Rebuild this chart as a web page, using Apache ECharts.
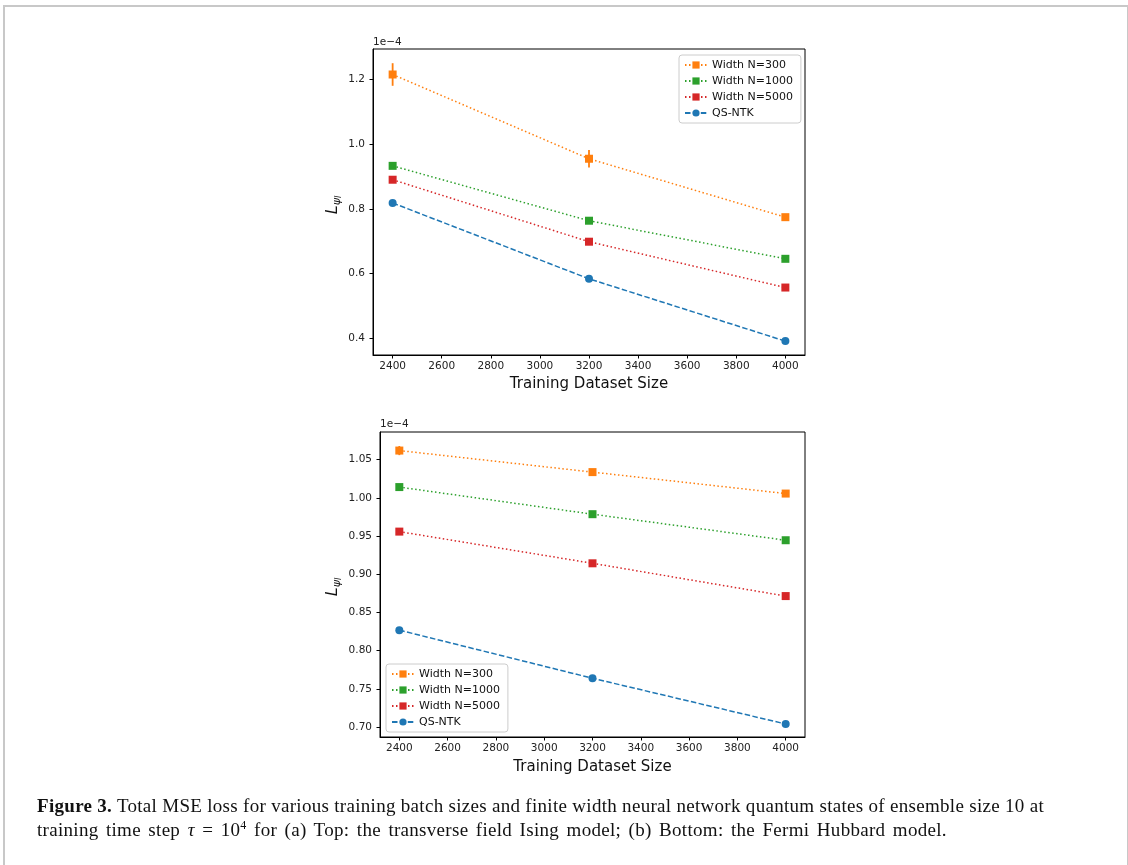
<!DOCTYPE html>
<html>
<head>
<meta charset="utf-8">
<script src="https://cdn.jsdelivr.net/npm/echarts@6/dist/echarts.min.js"></script>
<style>
  body { margin: 0; background: #fff; }
  #frame { position: absolute; left: 3px; top: 5px; width: 1122px; height: 880px;
           border: 2px solid #c8c8c8; border-bottom: none; }
  #chart { position: absolute; left: 0; top: 0; width: 1128px; height: 865px; }
  #caption { position: absolute; left: 37px; top: 794px; width: 1085px;
             font-family: "Liberation Serif", "DejaVu Serif", serif; font-size: 19px;
             letter-spacing: 0.3px; line-height: 24px; color: #111; white-space: nowrap; }
  #caption sup { font-size: 12px; line-height: 0; vertical-align: 7px; }
  #caption .l2 { word-spacing: 2.4px; }
</style>
</head>
<body>
<div id="frame"></div>
<div id="chart"></div>
<div id="caption"><b>Figure 3.</b> Total MSE loss for various training batch sizes and finite width neural network quantum states of ensemble size 10 at<br><span class="l2">training time step <i>τ</i>&nbsp;=&nbsp;10<sup>4</sup> for (a) Top: the transverse field Ising model; (b) Bottom: the Fermi Hubbard model.</span></div>
<script>
// datos (valores en unidades de 1e-4)
const tamanos = [2400, 3200, 4000];
const xTicks = [2400, 2600, 2800, 3000, 3200, 3400, 3600, 3800, 4000];
const nombres = ['Width N=300', 'Width N=1000', 'Width N=5000', 'QS-NTK'];

// (a) Ising
const isingN300 = [1.216, 0.955, 0.774];
const isingN1000 = [0.933, 0.763, 0.645];
const isingN5000 = [0.890, 0.698, 0.556];
const isingNTK = [0.818, 0.583, 0.390];
const isingErrN300 = [0.035, 0.027, 0.004];
const isingErrN1000 = [0.004, 0.004, 0.003];
const isingErrN5000 = [0.004, 0.004, 0.003];
const isingYTicks = [0.4, 0.6, 0.8, 1.0, 1.2];

// (b) Fermi Hubbard
const hubbardN300 = [1.0620, 1.0338, 1.0057];
const hubbardN1000 = [1.0142, 0.9787, 0.9446];
const hubbardN5000 = [0.9559, 0.9144, 0.8715];
const hubbardNTK = [0.8269, 0.7639, 0.7040];
const hubbardErrN300 = [0.006, 0.004, 0.002];
const hubbardErrN1000 = [0.004, 0.002, 0.002];
const hubbardErrN5000 = [0.002, 0.002, 0.002];
const hubbardYTicks = [0.70, 0.75, 0.80, 0.85, 0.90, 0.95, 1.00, 1.05];

const colores = ['#ff7f0e', '#2ca02c', '#d62728', '#1f77b4'];
const punteado = [1.5, 2.5];
const rayado = [5.5, 2.4];
const fuente = 'DejaVu Sans';

const linea = (nombre, valores, color, tipo, simbolo, idx) => ({
    name: nombre,
    type: 'line',
    xAxisIndex: idx,
    yAxisIndex: idx,
    data: tamanos.map((x, i) => [x, valores[i]]),
    symbol: simbolo,
    symbolSize: 8,
    lineStyle: { color: color, width: 1.5, type: tipo },
    itemStyle: { color: color },
    animation: false,
    z: 3
});

const barraError = (valores, errores, color, idx) => ({
    type: 'custom',
    xAxisIndex: idx,
    yAxisIndex: idx,
    data: tamanos.map((x, i) => [x, valores[i] - errores[i], valores[i] + errores[i]]),
    encode: { x: 0, y: [1, 2] },
    renderItem: (params, api) => {
        const a = api.coord([api.value(0), api.value(1)]);
        const b = api.coord([api.value(0), api.value(2)]);
        return {
            type: 'line',
            shape: { x1: a[0], y1: a[1], x2: b[0], y2: b[1] },
            style: { stroke: color, lineWidth: 1.8 }
        };
    },
    silent: true,
    animation: false,
    z: 4
});

const ejeX = (idx) => ({
    type: 'value',
    gridIndex: idx,
    min: 2320,
    max: 4080,
    name: 'Training Dataset Size',
    nameLocation: 'middle',
    nameGap: idx === 0 ? 22 : 23,
    nameTextStyle: { fontFamily: fuente, fontSize: 15, color: '#111' },
    axisLine: { show: true, onZero: false, lineStyle: { color: '#000', width: 1 } },
    axisTick: { show: true, length: 3.5, customValues: xTicks, lineStyle: { color: '#000' } },
    axisLabel: {
        customValues: xTicks, margin: 6, fontFamily: fuente, fontSize: 10.5, color: '#222',
        formatter: v => String(v)
    },
    splitLine: { show: false }
});

const ejeY = (idx, min, max, ticks, dec) => ({
    type: 'value',
    gridIndex: idx,
    min: min,
    max: max,
    axisLine: { show: true, onZero: false, lineStyle: { color: '#000', width: 1 } },
    axisTick: { show: true, length: 3.5, customValues: ticks, lineStyle: { color: '#000' } },
    axisLabel: {
        customValues: ticks, margin: 8, fontFamily: fuente, fontSize: 10.5, color: '#222',
        formatter: v => v.toFixed(dec)
    },
    splitLine: { show: false }
});

const leyenda = (left, top) => ({
    data: nombres,
    orient: 'vertical',
    left: left,
    top: top,
    itemWidth: 22,
    itemHeight: 9,
    itemGap: 4,
    itemTextGap: 10,
    padding: [4, 8, 4, 5],
    backgroundColor: 'rgba(255,255,255,0.8)',
    borderColor: '#cccccc',
    borderWidth: 1,
    borderRadius: 3,
    selectedMode: false,
    textStyle: { fontFamily: fuente, fontSize: 11, lineHeight: 12, color: '#111' }
});

const etiquetaY = (x, y) => ({
    type: 'text',
    x: x,
    y: y,
    rotation: Math.PI / 2,
    style: {
        text: '{L|L}{p|ψ}{l|l}',
        align: 'center',
        verticalAlign: 'middle',
        rich: {
            L: { fontFamily: fuente, fontStyle: 'italic', fontSize: 16, lineHeight: 20, verticalAlign: 'middle', fill: '#111' },
            p: { fontFamily: fuente, fontStyle: 'italic', fontSize: 11, lineHeight: 20, verticalAlign: 'bottom', fill: '#111' },
            l: { fontFamily: fuente, fontStyle: 'italic', fontSize: 8, lineHeight: 20, verticalAlign: 'bottom', fill: '#111' }
        }
    }
});

const chart = echarts.init(document.getElementById('chart'), null, { renderer: 'canvas' });

chart.setOption({
    backgroundColor: 'transparent',
    animation: false,
    grid: [
        { left: 373, top: 49, width: 432, height: 306, show: true, borderColor: '#000', borderWidth: 1, backgroundColor: 'transparent' },
        { left: 380, top: 432, width: 425, height: 305, show: true, borderColor: '#000', borderWidth: 1, backgroundColor: 'transparent' }
    ],
    xAxis: [ejeX(0), ejeX(1)],
    yAxis: [
        ejeY(0, 0.347, 1.295, isingYTicks, 1),
        ejeY(1, 0.687, 1.0863, hubbardYTicks, 2)
    ],
    legend: [leyenda(679, 55), leyenda(386, 664)],
    graphic: [
        { type: 'text', x: 373, y: 37, style: { text: '1e−4', fontFamily: fuente, fontSize: 10.5, fill: '#222' } },
        { type: 'text', x: 380, y: 419, style: { text: '1e−4', fontFamily: fuente, fontSize: 10.5, fill: '#222' } },
        etiquetaY(333, 205),
        etiquetaY(333, 587)
    ],
    series: [
        barraError(isingN300, isingErrN300, colores[0], 0),
        barraError(isingN1000, isingErrN1000, colores[1], 0),
        barraError(isingN5000, isingErrN5000, colores[2], 0),
        linea(nombres[0], isingN300, colores[0], punteado, 'rect', 0),
        linea(nombres[1], isingN1000, colores[1], punteado, 'rect', 0),
        linea(nombres[2], isingN5000, colores[2], punteado, 'rect', 0),
        linea(nombres[3], isingNTK, colores[3], rayado, 'circle', 0),
        barraError(hubbardN300, hubbardErrN300, colores[0], 1),
        barraError(hubbardN1000, hubbardErrN1000, colores[1], 1),
        barraError(hubbardN5000, hubbardErrN5000, colores[2], 1),
        linea(nombres[0], hubbardN300, colores[0], punteado, 'rect', 1),
        linea(nombres[1], hubbardN1000, colores[1], punteado, 'rect', 1),
        linea(nombres[2], hubbardN5000, colores[2], punteado, 'rect', 1),
        linea(nombres[3], hubbardNTK, colores[3], rayado, 'circle', 1)
    ]
});
</script>
</body>
</html>
